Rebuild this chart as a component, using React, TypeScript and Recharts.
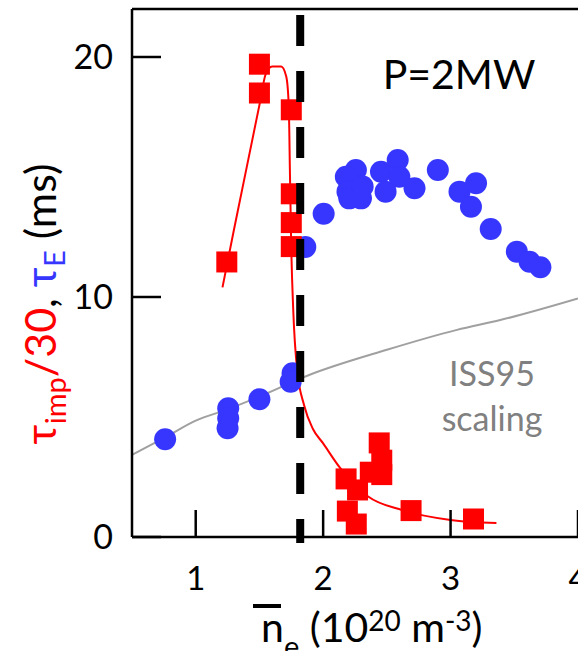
import React from "react";
import {
  ComposedChart,
  Scatter,
  Line,
  XAxis,
  YAxis,
  ReferenceLine,
} from "recharts";

// tau_imp / 30 (red squares)
const impX = [1.244, 1.50, 1.50, 1.75, 1.75, 1.75, 1.75, 2.18, 2.27, 2.19, 2.26, 2.37, 2.44, 2.46, 2.46, 2.69, 3.18];
const impY = [11.46, 19.7, 18.5, 17.8, 14.3, 13.1, 12.1, 2.42, 1.96, 1.08, 0.54, 2.7, 3.92, 3.2, 2.6, 1.1, 0.75];

// tau_E (blue circles)
const tauEX = [0.76, 1.255, 1.255, 1.25, 1.50, 1.76, 1.745, 1.86, 2.004, 2.257, 2.178, 2.191, 2.205, 2.297, 2.31, 2.454, 2.585, 2.49, 2.598, 2.717, 2.90, 3.07, 3.20, 3.16, 3.315, 3.52, 3.62, 3.705];
const tauEY = [4.07, 5.36, 4.95, 4.53, 5.74, 6.82, 6.47, 12.08, 13.47, 15.29, 15.01, 14.39, 14.11, 14.11, 14.6, 15.22, 15.71, 14.39, 15.01, 14.53, 15.29, 14.39, 14.74, 13.76, 12.83, 11.89, 11.47, 11.24];

// red guide curve through the tau_imp points
const fitX = [1.21, 1.3, 1.4, 1.5, 1.55, 1.6, 1.67, 1.71, 1.73, 1.74, 1.75, 1.765, 1.795, 1.85, 1.92, 2.0, 2.13, 2.35, 2.62, 3.0, 3.36];
const fitY = [10.4, 12.8, 15.4, 18.0, 19.3, 19.6, 19.6, 19.2, 18.0, 15.0, 12.0, 9.5, 7.0, 5.5, 4.5, 3.9, 2.9, 1.7, 1.12, 0.71, 0.58];

// ISS95 scaling curve
const issX = [0.5, 0.76, 1.0, 1.25, 1.5, 1.89, 2.5, 3.05, 3.39, 4.0];
const issY = [3.42, 4.15, 4.85, 5.32, 5.85, 6.75, 7.8, 8.63, 9.04, 9.94];

const xTicks = [1, 2, 3, 4];
const yTicks = [0, 10, 20];
const densityLimit = 1.82;

const zip = (xs: number[], ys: number[]) => xs.map((x, i) => ({ x, y: ys[i] }));

const impData = zip(impX, impY);
const tauEData = zip(tauEX, tauEY);
const fitData = zip(fitX, fitY);
const issData = zip(issX, issY);

const FONT = "Lato, 'Open Sans', sans-serif";
const RED = "#ff0000";
const BLUE = "#3636ff";

const Square = (props: any) => {
  const { cx, cy } = props;
  return <rect x={cx - 10.5} y={cy - 10.5} width={21} height={21} fill={RED} />;
};

const Dot = (props: any) => {
  const { cx, cy } = props;
  return <circle cx={cx} cy={cy} r={11} fill={BLUE} />;
};

const XTick = (props: any) => {
  const { x, y, payload } = props;
  return (
    <g>
      <line x1={x} x2={x} y1={y} y2={y - 27} stroke="#000" strokeWidth={2.5} />
      <text x={x} y={y + 53} textAnchor="middle" fontSize={33} fontFamily={FONT} fill="#000">
        {payload.value}
      </text>
    </g>
  );
};

const YTick = (props: any) => {
  const { x, y, payload } = props;
  return (
    <g>
      <line x1={x + 19} x2={x + 48} y1={y} y2={y} stroke="#000" strokeWidth={2.5} />
      <text x={x} y={y + 12} textAnchor="end" fontSize={34} fontFamily={FONT} fill="#000">
        {payload.value}
      </text>
    </g>
  );
};

export default function App() {
  return (
    <div style={{ width: 578, height: 651, background: "#fff" }}>
      <style>{"body{margin:0}"}</style>
      <ComposedChart width={578} height={651} margin={{ top: 9, right: 0, bottom: 0, left: 0 }}>
        <XAxis
          type="number"
          dataKey="x"
          domain={[0.5, 4]}
          ticks={xTicks}
          interval={0}
          allowDataOverflow
          height={114}
          tickSize={0}
          tickMargin={0}
          tickLine={false}
          axisLine={{ stroke: "#000", strokeWidth: 2.5 }}
          tick={<XTick />}
        />
        <YAxis
          type="number"
          dataKey="y"
          domain={[0, 22]}
          ticks={yTicks}
          interval={0}
          allowDataOverflow
          width={132}
          tickSize={0}
          tickMargin={19}
          tickLine={false}
          axisLine={{ stroke: "#000", strokeWidth: 2.5 }}
          tick={<YTick />}
        />
        <ReferenceLine y={22} stroke="#000" strokeWidth={2.5} />
        <Scatter data={tauEData} fill={BLUE} shape={<Dot />} isAnimationActive={false} />
        <Scatter data={impData} fill={RED} shape={<Square />} isAnimationActive={false} />
        <Line
          data={fitData}
          dataKey="y"
          type="monotone"
          stroke={RED}
          strokeWidth={2}
          dot={false}
          activeDot={false}
          isAnimationActive={false}
        />
        <Line
          data={issData}
          dataKey="y"
          type="monotone"
          stroke="#a0a0a0"
          strokeWidth={2}
          dot={false}
          activeDot={false}
          isAnimationActive={false}
        />
        <ReferenceLine
          segment={[
            { x: densityLimit, y: 21.75 },
            { x: densityLimit, y: -0.25 },
          ]}
          stroke="#000"
          strokeWidth={8}
          strokeDasharray="31 25"
          ifOverflow="visible"
          zIndex={1000}
        />
        <text x={459} y={89} textAnchor="middle" fontSize={41} fontFamily={FONT} fill="#000">
          P=2MW
        </text>
        <text x={492} y={386} textAnchor="middle" fontSize={34} fontFamily={FONT} fill="#808080">
          ISS95
        </text>
        <text x={492} y={431} textAnchor="middle" fontSize={34} fontFamily={FONT} fill="#808080">
          scaling
        </text>
        <text
          transform="translate(56,304) rotate(-90)"
          textAnchor="middle"
          fontSize={43}
          fontFamily={FONT}
        >
          <tspan fill={RED}>τ</tspan>
          <tspan fill={RED} fontSize={29} dy={10}>imp</tspan>
          <tspan fill={RED} dy={-10}>/30</tspan>
          <tspan fill="#000">, </tspan>
          <tspan fill={BLUE}>τ</tspan>
          <tspan fill={BLUE} fontSize={29} dy={9}>E</tspan>
          <tspan fill="#000" dy={-9}> (ms)</tspan>
        </text>
        <line x1={253} x2={281} y1={606} y2={606} stroke="#000" strokeWidth={4} />
        <text x={261} y={642} fontSize={41} fontFamily={FONT} fill="#000">
          <tspan>n</tspan>
          <tspan fontSize={29} dy={15}>e</tspan>
          <tspan dy={-15}> (10</tspan>
          <tspan fontSize={28} dy={-11}>20</tspan>
          <tspan dy={11}> m</tspan>
          <tspan fontSize={28} dy={-11}>-3</tspan>
          <tspan dy={11}>)</tspan>
        </text>
      </ComposedChart>
    </div>
  );
}
